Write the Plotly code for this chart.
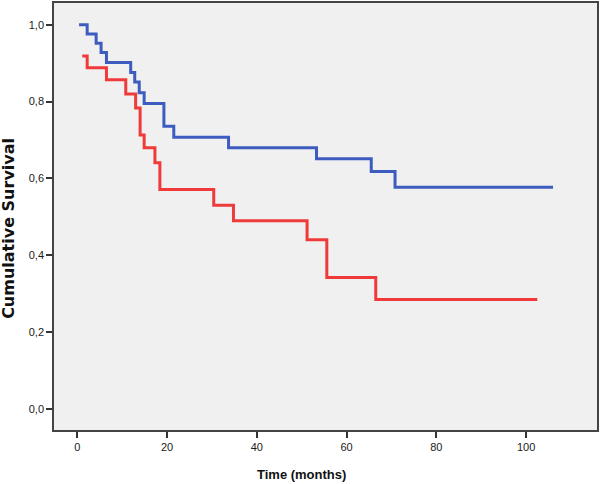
import plotly.graph_objects as go

# Blue group: step change times (months) and survival after each change
blue_time = [0.4, 2.2, 4.2, 5.3, 6.5, 11.9, 12.8, 13.8, 14.9, 19.3, 21.5, 33.7, 53.3, 65.5, 70.8, 106.0]
blue_surv = [1.000, 0.976, 0.952, 0.928, 0.902, 0.876, 0.851, 0.823, 0.795, 0.736, 0.707, 0.680, 0.651, 0.618, 0.577, 0.577]

# Red group
red_time = [1.1, 2.2, 6.5, 10.8, 13.0, 14.0, 14.9, 17.3, 18.4, 30.4, 34.8, 51.2, 55.6, 66.5, 102.5]
red_surv = [0.919, 0.888, 0.857, 0.820, 0.783, 0.713, 0.680, 0.641, 0.571, 0.530, 0.490, 0.440, 0.342, 0.285, 0.285]

x_ticks = [0, 20, 40, 60, 80, 100]
y_ticks = [0.0, 0.2, 0.4, 0.6, 0.8, 1.0]
y_tick_text = ["0,0", "0,2", "0,4", "0,6", "0,8", "1,0"]

fig = go.Figure()
fig.add_trace(go.Scatter(x=blue_time, y=blue_surv, mode="lines",
                         line=dict(shape="hv", color="#3d5cbf", width=3),
                         showlegend=False, hoverinfo="skip"))
fig.add_trace(go.Scatter(x=red_time, y=red_surv, mode="lines",
                         line=dict(shape="hv", color="#f03a3a", width=3),
                         showlegend=False, hoverinfo="skip"))

fig.update_layout(
    width=600, height=484,
    margin=dict(l=54, r=3, t=1, b=54),
    paper_bgcolor="white",
    plot_bgcolor="#f0f0f0",
    font=dict(family="Liberation Sans, Arial, sans-serif", size=11, color="#1a1a1a"),
    xaxis=dict(range=[-5.19, 115.8], tickvals=x_ticks, ticks="outside", ticklen=6,
               tickwidth=1.5, tickcolor="#333", showgrid=False, zeroline=False,
               showline=True, linecolor="#444", linewidth=1.5, mirror=True),
    yaxis=dict(range=[-0.0551, 1.0567], tickvals=y_ticks, ticktext=y_tick_text,
               ticks="outside", ticklen=6, tickwidth=1.5, tickcolor="#333",
               showgrid=False, zeroline=False,
               showline=True, linecolor="#444", linewidth=1.5, mirror=True),
    annotations=[
        dict(text="<b>Time (months)</b>", xref="paper", yref="paper",
             x=0.456, y=-0.105, xanchor="center", yanchor="middle", showarrow=False,
             font=dict(family="Liberation Sans, Arial, sans-serif", size=13, color="#111")),
        dict(text="<b>Cumulative Survival</b>", xref="paper", yref="paper",
             x=-0.085, y=0.473, xanchor="center", yanchor="middle", showarrow=False,
             textangle=-90,
             font=dict(family="DejaVu Sans, sans-serif", size=16, color="#111")),
    ],
)

fig.write_html("out.html", config={"displayModeBar": False},
               post_script="document.body.style.margin='0';")
